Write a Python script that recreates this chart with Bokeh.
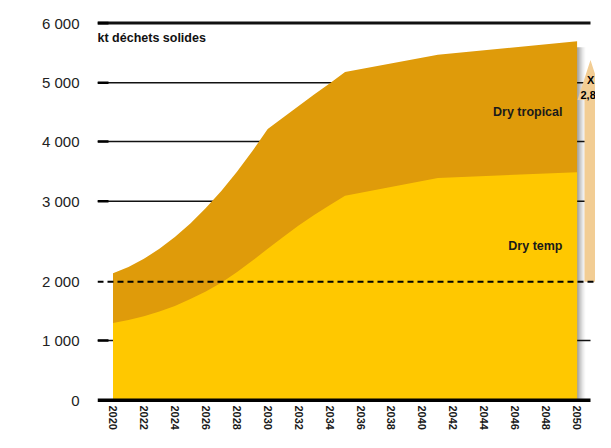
import numpy as np
from bokeh.plotting import figure
from bokeh.models import Range1d, FixedTicker, Span
from bokeh.core.properties import value
from bokeh.embed import file_html
from bokeh.resources import INLINE

# ---------------- data ----------------
years = [2020, 2021, 2022, 2023, 2024, 2025, 2026, 2027, 2028, 2029, 2030,
         2031, 2032, 2033, 2034, 2035, 2041, 2050]
dry_temp = [1300, 1350, 1415, 1495, 1590, 1705, 1835, 1985, 2120, 2260, 2410,
            2555, 2700, 2830, 2950, 3090, 3390, 3485]
dry_tropical = [805, 835, 870, 915, 965, 1020, 1080, 1185, 1370, 1575, 1805,
                1855, 1905, 1970, 2040, 2090, 2080, 2210]
y_tick_values = [0, 1000, 2000, 3000, 4000, 5000, 6000]
y_tick_labels = ["0", "1 000", "2 000", "3 000", "4 000", "5 000", "6 000"]
x_tick_years = list(range(2020, 2051, 2))
threshold = 2000
arrow_top_value = 5380
unit_label = "kt déchets solides"
series_labels = ["Dry tropical", "Dry temp"]
arrow_text = ["X", "2,8"]

# --- the reference axis is drawn with uneven spacing (wider gap 2000-3000):
# piecewise-linear axis scale (display units = pixels above the zero line)
axis_display = [0, 60, 119, 200, 260, 319, 379]


def to_disp(v):
    return np.interp(np.asarray(v, dtype=float), y_tick_values, axis_display)


temp = np.array(dry_temp, dtype=float)
total = temp + np.array(dry_tropical, dtype=float)
d_temp = to_disp(temp)
d_total = to_disp(total)

# ---------------- geometry ----------------
W, H = 595, 432
LEFT, TOP, BOTTOM = 97, 4, 28
FRAME_W, FRAME_H = W - LEFT, H - TOP - BOTTOM
PX_PER_YEAR = 15.47
x_start = 2020 - 15.5 / PX_PER_YEAR
x_end = x_start + FRAME_W / PX_PER_YEAR
y_start = -2.3
y_end = y_start + FRAME_H
grid_end = 2020 + (590 - 112.5) / PX_PER_YEAR
px = 1.0 / PX_PER_YEAR


def xpix(page_x):
    return 2020 + (page_x - 112.5) / PX_PER_YEAR


C_TEMP = "#FFC800"
C_TROP = "#DF9B0A"
C_ARROW = "#F2CD94"
FONT = "Liberation Sans"

p = figure(width=W, height=H,
           x_range=Range1d(x_start, x_end), y_range=Range1d(y_start, y_end),
           output_backend="svg", toolbar_location=None,
           min_border_left=LEFT, min_border_right=0, min_border_top=TOP,
           min_border_bottom=BOTTOM)
p.outline_line_color = None
p.grid.visible = False
p.background_fill_color = "white"
p.border_fill_color = "white"

# shadow at right of the area
for i in range(9):
    a = 0.38 * (1 - i / 9) ** 1.6
    p.quad(left=2050 + i * px, right=2050 + (i + 1) * px, bottom=0,
           top=d_total[-1] - 6, fill_color="black", fill_alpha=a, line_color=None)

# grid lines (solid) with thicker stubs at the left
for v, d in zip(y_tick_values, axis_display):
    if v == 0 or v == threshold:
        continue
    lw = 3 if v == y_tick_values[-1] else 1.4
    p.segment(x0=x_start, y0=d, x1=grid_end, y1=d, line_color="#111111", line_width=lw)
    p.segment(x0=x_start, y0=d, x1=x_start + 11 * px, y1=d, line_color="black", line_width=2.6)

# stacked areas
p.varea(x=years, y1=0, y2=d_total, fill_color=C_TROP)
p.varea(x=years, y1=0, y2=d_temp, fill_color=C_TEMP)

# x axis line
p.segment(x0=x_start, y0=0, x1=grid_end, y1=0, line_color="black", line_width=3.5)

# growth arrow at the right edge
cx = xpix(590)
shaft = 6 * px
head = 13 * px
tip = float(to_disp(arrow_top_value))
head_base = tip - 40
base = float(to_disp(threshold))
p.patch(x=[cx - shaft, cx - shaft, cx - head, cx, cx + head, cx + shaft, cx + shaft],
        y=[base, head_base, head_base, tip, head_base, head_base, base],
        fill_color=C_ARROW, line_color=None)
p.text(x=[xpix(586.5), xpix(580)], y=[tip - 20, tip - 35], text=arrow_text,
       text_font=value(FONT), text_font_style="bold", text_font_size="11px",
       text_color="black", text_align="left", text_baseline="middle")

# threshold dashed line
p.add_layout(Span(location=base, dimension="width",
                  line_color="black", line_width=2, line_dash="6 4"))

# texts
p.text(x=[x_start], y=[363.7], text=[unit_label], text_font=value(FONT),
       text_font_style="bold", text_font_size="12.5px", text_color="#111111",
       text_align="left", text_baseline="middle")
lab_x = xpix(562)
p.text(x=[lab_x, lab_x], y=[290, 155], text=series_labels, text_font=value(FONT),
       text_font_style="bold", text_font_size="12.5px", text_color="#1a1a1a",
       text_align="right", text_baseline="middle")

# axes
p.yaxis.ticker = FixedTicker(ticks=axis_display)
p.yaxis.major_label_overrides = {d: l for d, l in zip(axis_display, y_tick_labels)}
p.yaxis.axis_line_color = None
p.yaxis.major_tick_line_color = None
p.yaxis.minor_tick_line_color = None
p.yaxis.major_label_standoff = 12
p.yaxis.major_label_text_font = FONT
p.yaxis.major_label_text_font_size = "15px"
p.yaxis.major_label_text_color = "#222222"

p.xaxis.ticker = FixedTicker(ticks=x_tick_years)
p.xaxis.major_label_orientation = "vertical"
p.xaxis.axis_line_color = None
p.xaxis.major_tick_line_color = None
p.xaxis.minor_tick_line_color = None
p.xaxis.major_tick_in = 0
p.xaxis.major_tick_out = 0
p.xaxis.major_label_standoff = 3
p.xaxis.major_label_text_font = FONT
p.xaxis.major_label_text_font_style = "bold"
p.xaxis.major_label_text_font_size = "11px"
p.xaxis.major_label_text_color = "#1a1a1a"

open("out.html", "w").write(file_html(p, INLINE))
